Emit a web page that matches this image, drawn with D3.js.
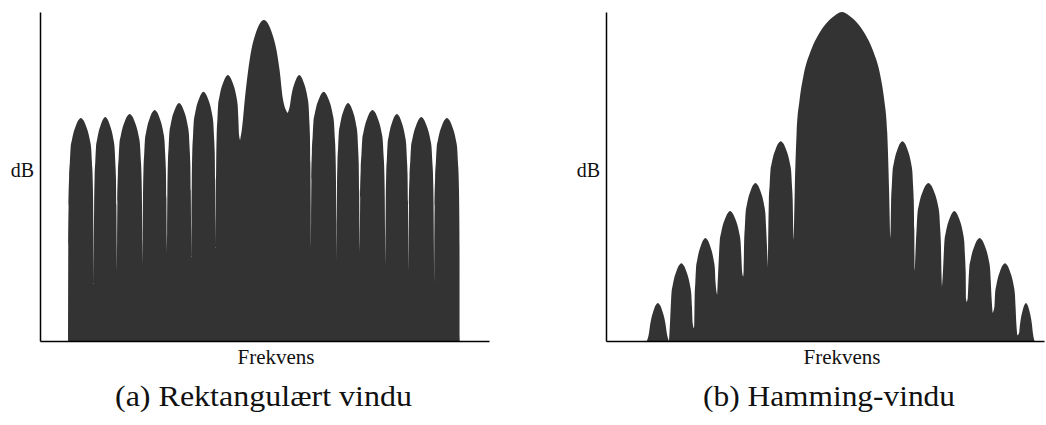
<!DOCTYPE html>
<html>
<head>
<meta charset="utf-8">
<script src="https://cdn.jsdelivr.net/npm/d3@7"></script>
<style>
  body { margin: 0; background: #fff; }
  svg { display: block; }
</style>
</head>
<body>
<div id="chart"></div>
<script>
// frekvens i bin-enheter (senter = 0), nivå i dB
// (a) rektangulært vindu: nullpunkter, nivå i nullpunktene, topp for hver lobe
var rectNulls = [-8.05, -7.0, -6.05, -5.0, -4.0, -3.0, -2.0, -1.0, 0.95, 1.9, 2.95, 3.9, 4.95, 5.9, 6.95, 8.0];
var rectNullLevels = [-80, -66.0, -62.8, -61.1, -58.1, -59.8, -56.8, -29.9, -23.2, -56.8, -59.8, -58.1, -61.1, -62.8, -66.0, -80];
var rectPeaks = [-24.4, -24.2, -23.4, -22.4, -20.7, -17.9, -13.7, 0, -13.7, -17.9, -20.7, -22.4, -23.4, -24.2, -24.4];
var rectMainIndex = 7;

// (b) Hamming-vindu
var hammNulls = [-7.9, -7.0, -6.0, -5.05, -4.0, -3.0, -1.95, 1.95, 2.95, 4.05, 5.05, 6.1, 7.1, 7.8];
var hammNullLevels = [-80, -80, -76.8, -68.5, -64.0, -61.6, -54.8, -54.3, -62.3, -66.5, -70.3, -73.0, -78.6, -80];
var hammPeaks = [-70.5, -60.6, -54.3, -47.6, -40.6, -30.2, 2, -30.2, -40.6, -47.6, -54.3, -60.6, -70.5];
var hammMainIndex = 6;

// loboform lest av bildet: avstand fra nullpunkt (andel av lobebredde) og fall fra toppen i dB
var sideU = [0.008, 0.02, 0.04, 0.07, 0.1, 0.15, 0.2, 0.3, 0.4, 0.5];
var sideDrop = [32, 22, 15, 11, 7.5, 5.5, 4.0, 2.0, 0.6, 0];
var rectMainU = [0.01, 0.04, 0.1, 0.17, 0.24, 0.32, 0.4, 0.5];
var rectMainDrop = [40, 27, 19.7, 12.5, 7.2, 3.6, 1.2, 0];
var hammMainU = [0.01, 0.03, 0.06, 0.1, 0.18, 0.26, 0.35, 0.43, 0.5];
var hammMainDrop = [45, 30, 22, 16, 9.5, 5.5, 2.5, 0.8, 0];

var captions = ["(a) Rektangulært vindu", "(b) Hamming-vindu"];
var xLabel = "Frekvens", yLabel = "dB";

var serif = "'Liberation Serif', 'Times New Roman', serif";

var W = 1046, H = 425;
var svg = d3.select("#chart").append("svg")
    .attr("width", W)
    .attr("height", H);

// felles dB-skala
var y = d3.scaleLinear().domain([-80, 2]).range([341, 12]);

// punktene for hver lobe; punkter under nullnivået hoppes over
function lobes(nulls, levels, peaks, mainIndex, mainU, mainDrop) {
    var out = [];
    for (var i = 0; i < peaks.length; i++) {
        var a = nulls[i], b = nulls[i + 1], p = peaks[i];
        var us = i === mainIndex ? mainU : sideU;
        var ds = i === mainIndex ? mainDrop : sideDrop;
        var pts = [{ f: a, db: levels[i] }];
        for (var k = 0; k < us.length; k++) {
            if (p - ds[k] > levels[i]) pts.push({ f: a + us[k] * (b - a), db: p - ds[k] });
        }
        for (var k = us.length - 2; k >= 0; k--) {
            if (p - ds[k] > levels[i + 1]) pts.push({ f: b - us[k] * (b - a), db: p - ds[k] });
        }
        pts.push({ f: b, db: levels[i + 1] });
        out.push(pts);
    }
    return out;
}

function panel(opt) {
    var x = d3.scaleLinear().domain(opt.domain).range(opt.range);
    var g = svg.append("g");

    var line = d3.line()
        .x(function (d) { return x(d.f); })
        .y(function (d) { return y(d.db); })
        .curve(d3.curveMonotoneX);

    // hver lobe som egen kurve, slik at nullpunktene blir spisse
    var first = opt.data[0][0], last = opt.data[opt.data.length - 1];
    last = last[last.length - 1];
    var d = "M" + x(first.f) + "," + y(-80);
    opt.data.forEach(function (pts) {
        d += line(pts).replace(/^M/, "L");
    });
    d += "L" + x(last.f) + "," + y(-80) + "Z";

    g.append("path")
        .attr("d", d)
        .style("fill", "#333")
        .style("stroke", "none");

    // akser uten merker
    g.append("g")
        .attr("transform", "translate(0," + y(-80) + ")")
        .call(d3.axisBottom(x).ticks(0).tickSizeOuter(0))
        .select(".domain").attr("stroke", "#000").attr("stroke-width", 1.5);

    g.append("g")
        .attr("transform", "translate(" + opt.range[0] + ",0)")
        .call(d3.axisLeft(y).ticks(0).tickSizeOuter(0))
        .select(".domain").attr("stroke", "#000").attr("stroke-width", 1.5);

    g.append("text")
        .attr("x", opt.range[0] - 6)
        .attr("y", 177)
        .attr("text-anchor", "end")
        .attr("font-family", serif)
        .attr("font-size", 20)
        .attr("fill", "#111")
        .text(yLabel);

    g.append("text")
        .attr("x", opt.xLabelAt)
        .attr("y", 364)
        .attr("text-anchor", "middle")
        .attr("font-family", serif)
        .attr("font-size", 21)
        .attr("fill", "#111")
        .text(xLabel);

    g.append("text")
        .attr("x", opt.captionAt)
        .attr("y", 406)
        .attr("text-anchor", "middle")
        .attr("font-family", serif)
        .attr("font-size", 29)
        .attr("fill", "#111")
        .attr("textLength", opt.captionWidth)
        .attr("lengthAdjust", "spacingAndGlyphs")
        .text(opt.caption);
}

panel({
    domain: [-9.2, 9.2], range: [40, 489],
    data: lobes(rectNulls, rectNullLevels, rectPeaks, rectMainIndex, rectMainU, rectMainDrop),
    xLabelAt: 276, captionAt: 263.5, captionWidth: 297, caption: captions[0]
});

panel({
    domain: [-9.55, 8.18], range: [606, 1044],
    data: lobes(hammNulls, hammNullLevels, hammPeaks, hammMainIndex, hammMainU, hammMainDrop),
    xLabelAt: 842, captionAt: 829, captionWidth: 252, caption: captions[1]
});
</script>
</body>
</html>
